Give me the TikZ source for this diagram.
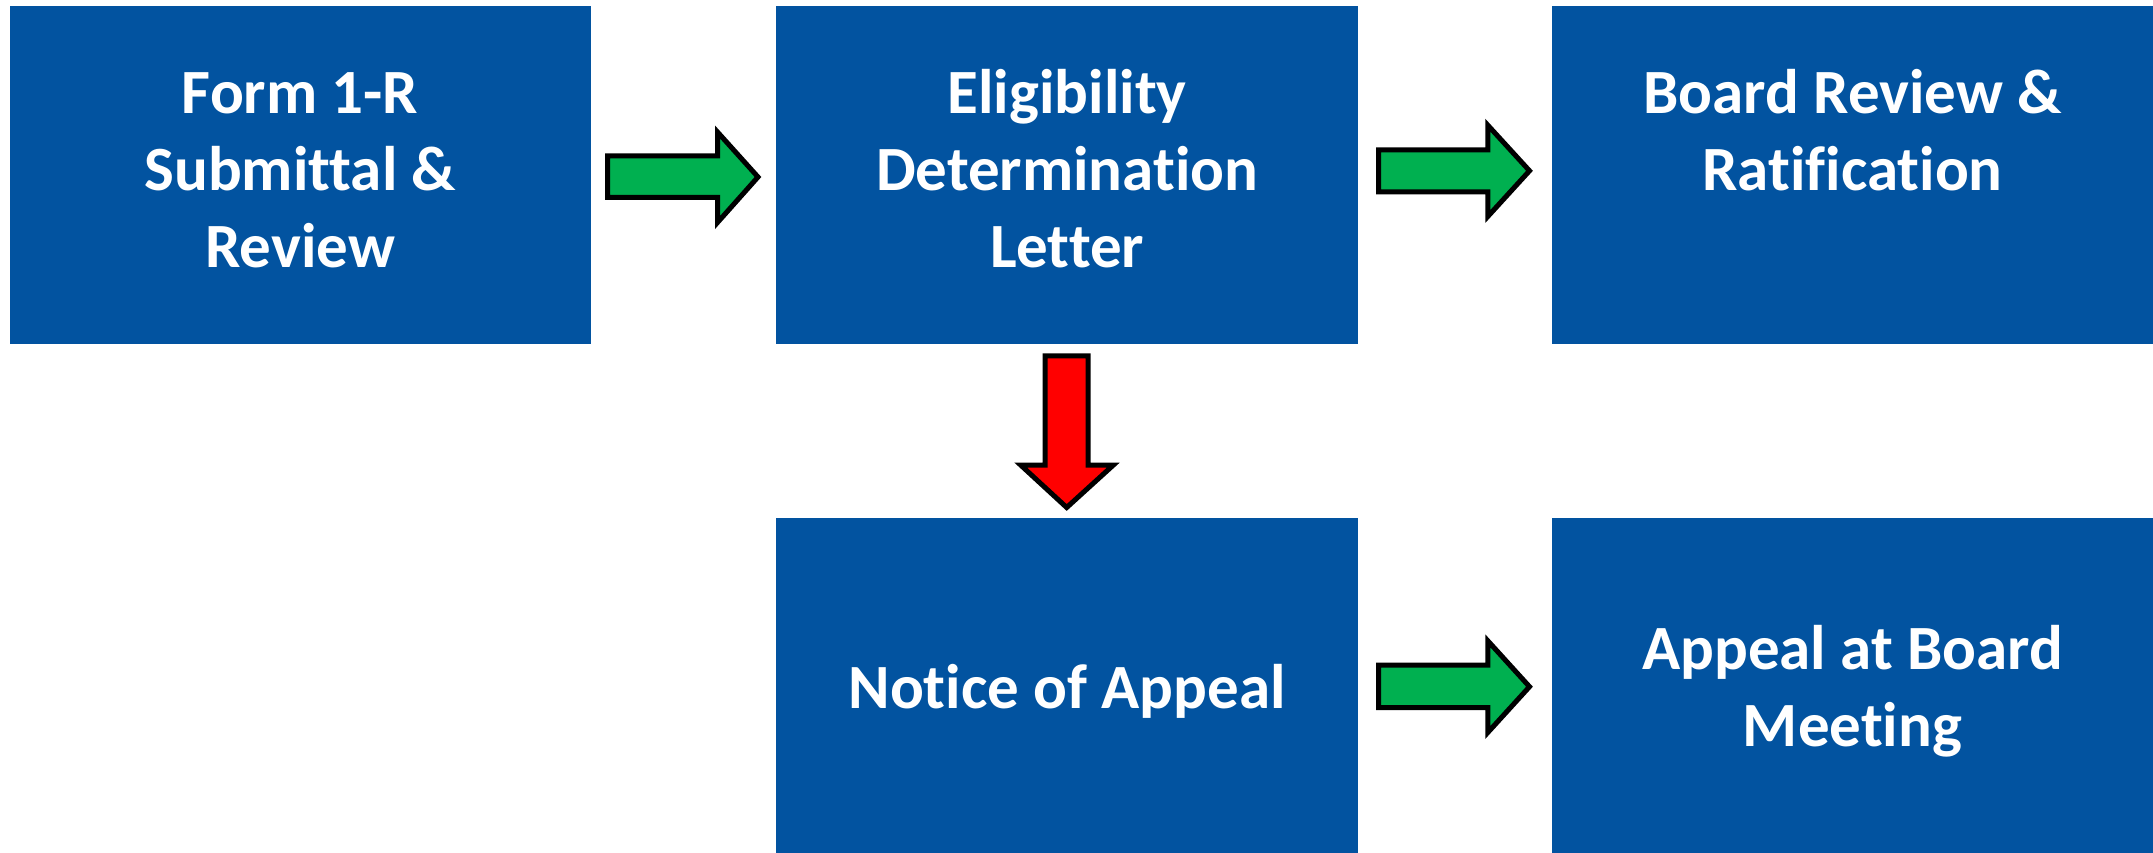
\documentclass[tikz,border=0pt]{standalone}
\usepackage{fontspec}
\setmainfont{Carlito}[Ligatures=NoCommon]
\definecolor{boxblue}{RGB}{2,83,160}
\definecolor{arrowgreen}{RGB}{0,176,80}
\definecolor{arrowred}{RGB}{255,0,0}
\newcommand{\topstrut}{\rule{0pt}{50pt}}
\newcommand{\botstrut}{\rule[-20pt]{0pt}{20pt}}
\begin{document}
\begin{tikzpicture}[x=1pt,y=-1pt,
  stepbox/.style={rectangle, fill=boxblue, inner sep=0pt, anchor=north west},
  steptext/.style={text=white, inner sep=0pt, align=center, anchor=center,
    font=\bfseries\fontsize{63}{77}\selectfont},
  blockarrow/.style={draw=black, line width=5pt, line join=miter, miter limit=10}]
\useasboundingbox (0,0) rectangle (2153,853);
\fill[white] (0,0) rectangle (2153,853);
% boxes
\node[stepbox, minimum width=580.8pt, minimum height=337.8pt] (form) at (9.6,5.5) {};
\node[stepbox, minimum width=582.2pt, minimum height=337.8pt] (elig) at (775.8,5.5) {};
\node[stepbox, minimum width=601.4pt, minimum height=337.8pt] (board) at (1551.6,5.5) {};
\node[stepbox, minimum width=582.2pt, minimum height=335.3pt] (notice) at (775.8,517.7) {};
\node[stepbox, minimum width=601.4pt, minimum height=335.3pt] (appeal) at (1551.6,517.7) {};
% texts
\node[steptext] (formtext) at (form.center |- 0,175.3)
  {\topstrut Form 1-R\\Submittal \&\\Review\botstrut};
\node[steptext] (eligtext) at (elig.center |- 0,175.3)
  {\topstrut Eligibility\\Determination\\Letter\botstrut};
\node[steptext] (boardtext) at (board.center |- 0,136.8)
  {\topstrut Board Review \&\\Ratification\botstrut};
\node[steptext] (noticetext) at (notice.center |- 0,693.3)
  {\topstrut Notice of Appeal\botstrut};
\node[steptext] (appealtext) at (appeal.center |- 0,692.5)
  {\topstrut Appeal at Board\\Meeting\botstrut};
% green arrow form -> elig
\draw[blockarrow, fill=arrowgreen]
  (607.5,155.8) -- (717.5,155.8) -- (717.5,132) -- (758,177) -- (717.5,222.5)
  -- (717.5,197.5) -- (607.5,197.5) -- cycle;
% green arrow elig -> board
\draw[blockarrow, fill=arrowgreen]
  (1378.5,149.8) -- (1487.8,149.8) -- (1487.8,125.2) -- (1529.5,170.8) -- (1487.8,216.5)
  -- (1487.8,191.8) -- (1378.5,191.8) -- cycle;
% red arrow elig -> notice
\draw[blockarrow, fill=arrowred]
  (1045.2,355.8) -- (1088.2,355.8) -- (1088.2,465.2) -- (1113.2,465.2) -- (1066.7,507.5)
  -- (1020.8,465.2) -- (1045.2,465.2) -- cycle;
% green arrow notice -> appeal
\draw[blockarrow, fill=arrowgreen]
  (1378.5,665.2) -- (1487.8,665.2) -- (1487.8,640.8) -- (1529.5,686.7) -- (1487.8,732.5)
  -- (1487.8,707.5) -- (1378.5,707.5) -- cycle;
\end{tikzpicture}
\end{document}
